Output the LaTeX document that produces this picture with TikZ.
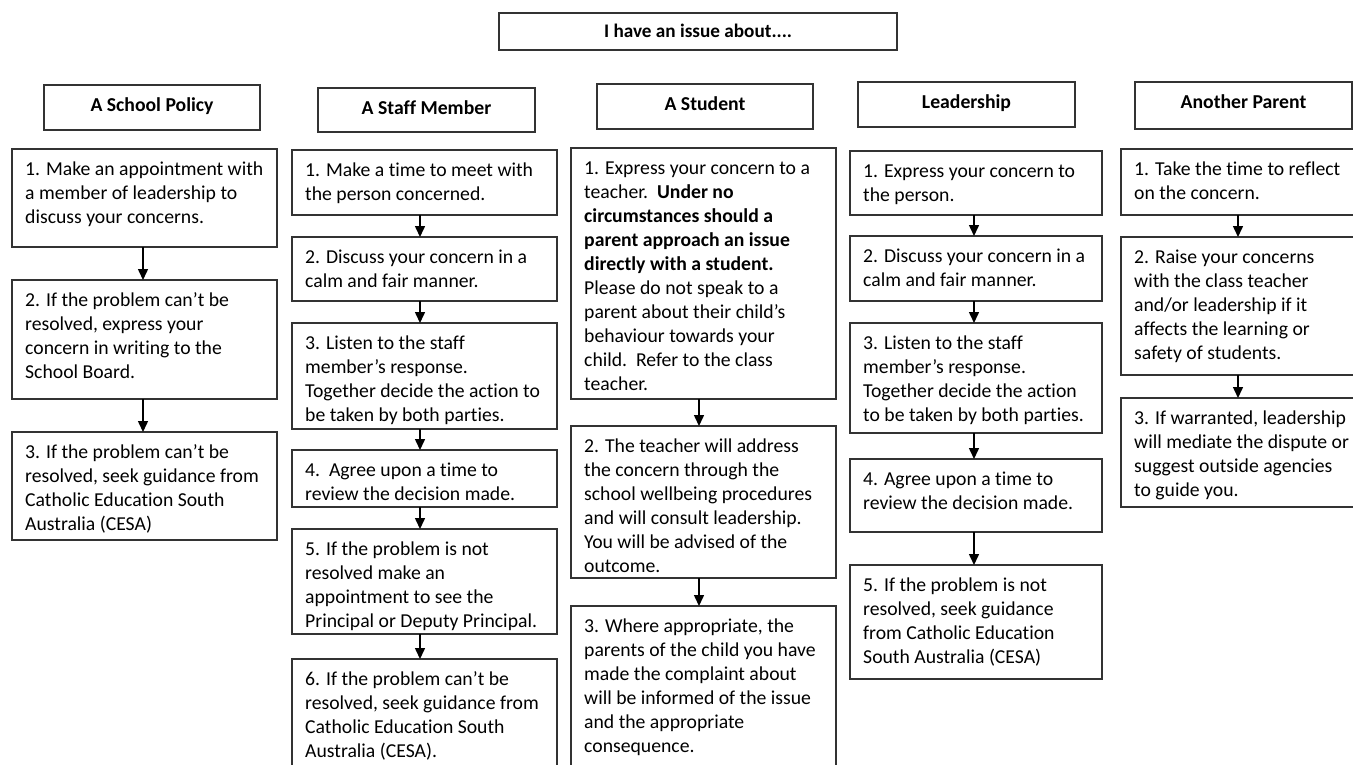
\documentclass[tikz,border=0pt]{standalone}
\usepackage{fontspec}
\setmainfont{Carlito}[Ligatures={NoCommon}]
\usetikzlibrary{arrows.meta}
\definecolor{edge}{HTML}{333333}
\tikzset{
  bx/.style={draw=edge, line width=1.3pt, rectangle, inner sep=0pt, outer sep=0pt},
  tx/.style={inner sep=0pt, align=left, font=\fontsize{19.7}{24}\selectfont},
  hd/.style={inner sep=0pt, font=\fontsize{19.7}{24}\selectfont\bfseries},
  ttl/.style={inner sep=0pt, font=\fontsize{19.2}{24}\selectfont\bfseries},
  arr/.style={draw=black, line width=1.5pt, -{Triangle[width=10pt,length=11pt]}}
}
\newcommand{\mkbox}[6]{%
  \node[bx, anchor=north west, minimum width={#4-#2}, minimum height={#5-#3}] (#1) at (#2,#3) {};
  \node[tx, anchor=north west] (#1t) at (#2+13,#3+9.2) {\strut#6};
}
\newcommand{\mkhead}[6]{%
  \node[bx, anchor=north west, minimum width={#4-#2}, minimum height={#5-#3}] (#1) at (#2,#3) {};
  \node[hd, anchor=base] (#1t) at ({(#2+#4)/2},#3+26) {#6};
}
\begin{document}
\begin{tikzpicture}[x=1pt,y=-1pt]
\clip (0,0) rectangle (1353,764);
\fill[white] (0,0) rectangle (1353,764);
% title
\node[bx, anchor=north west, minimum width=398, minimum height=37] (top) at (499,13) {};
\node[ttl, anchor=base] (topt) at (698,37.5) {I have an issue about....};
% headers
\mkhead{h1}{44}{85}{260}{130}{A School Policy}
\mkhead{h2}{318}{88}{535}{132}{A Staff Member}
\mkhead{h3}{597}{84}{813}{129}{A Student}
\mkhead{h4}{858}{82}{1075}{127}{Leadership}
\mkhead{h5}{1135}{82}{1352}{129}{Another Parent}
% column 1
\mkbox{a1}{12}{149}{277}{247}{1. Make an appointment with\\a member of leadership to\\discuss your concerns.}
\mkbox{a2}{12}{280}{277}{399}{2. If the problem can’t be\\resolved, express your\\concern in writing to the\\School Board.}
\mkbox{a3}{12}{432}{277}{540}{3. If the problem can’t be\\resolved, seek guidance from\\Catholic Education South\\Australia (CESA)}
% column 2
\mkbox{b1}{292}{150}{557}{215}{1. Make a time to meet with\\the person concerned.}
\mkbox{b2}{292}{237}{557}{301}{2. Discuss your concern in a\\calm and fair manner.}
\mkbox{b3}{292}{323}{557}{429}{3. Listen to the staff\\member’s response.\\Together decide the action to\\be taken by both parties.}
\mkbox{b4}{292}{450}{557}{507}{4.\ \ Agree upon a time to\\review the decision made.}
\mkbox{b5}{292}{529}{557}{634}{5. If the problem is not\\resolved make an\\appointment to see the\\Principal or Deputy Principal.}
\mkbox{b6}{292}{659}{557}{772}{6. If the problem can’t be\\resolved, seek guidance from\\Catholic Education South\\Australia (CESA).}
% column 3
\mkbox{c1}{571}{148}{836}{399}{1. Express your concern to a\\teacher.\ \ \textbf{Under no}\\\textbf{circumstances should a}\\\textbf{parent approach an issue}\\\textbf{directly with a student.}\\Please do not speak to a\\parent about their child’s\\behaviour towards your\\child.\ \ Refer to the class\\teacher.}
\mkbox{c2}{571}{426}{836}{578}{2. The teacher will address\\the concern through the\\school wellbeing procedures\\and will consult leadership.\\You will be advised of the\\outcome.}
\mkbox{c3}{571}{606}{836}{772}{3. Where appropriate, the\\parents of the child you have\\made the complaint about\\will be informed of the issue\\and the appropriate\\consequence.}
% column 4
\mkbox{d1}{850}{151}{1102}{215}{1. Express your concern to\\the person.}
\mkbox{d2}{850}{236}{1102}{301}{2. Discuss your concern in a\\calm and fair manner.}
\mkbox{d3}{850}{323}{1102}{433}{3. Listen to the staff\\member’s response.\\Together decide the action\\to be taken by both parties.}
\mkbox{d4}{850}{459}{1102}{532}{4. Agree upon a time to\\review the decision made.}
\mkbox{d5}{850}{565}{1102}{679}{5. If the problem is not\\resolved, seek guidance\\from Catholic Education\\South Australia (CESA)}
% column 5
\mkbox{e1}{1121}{149}{1358}{215}{1. Take the time to reflect\\on the concern.}
\mkbox{e2}{1121}{237}{1358}{375}{2. Raise your concerns\\with the class teacher\\and/or leadership if it\\affects the learning or\\safety of students.}
\mkbox{e3}{1121}{398}{1358}{507}{3. If warranted, leadership\\will mediate the dispute or\\suggest outside agencies\\to guide you.}
% arrow columns
\coordinate (ca) at (143,0);
\coordinate (cb) at (420,0);
\coordinate (cc) at (699,0);
\coordinate (cd) at (974,0);
\coordinate (ce) at (1238,0);
\draw[arr] (a1.south -| ca) -- (a2.north -| ca);
\draw[arr] (a2.south -| ca) -- (a3.north -| ca);
\draw[arr] (b1.south -| cb) -- (b2.north -| cb);
\draw[arr] (b2.south -| cb) -- (b3.north -| cb);
\draw[arr] (b3.south -| cb) -- (b4.north -| cb);
\draw[arr] (b4.south -| cb) -- (b5.north -| cb);
\draw[arr] (b5.south -| cb) -- (b6.north -| cb);
\draw[arr] (c1.south -| cc) -- (c2.north -| cc);
\draw[arr] (c2.south -| cc) -- (c3.north -| cc);
\draw[arr] (d1.south -| cd) -- (d2.north -| cd);
\draw[arr] (d2.south -| cd) -- (d3.north -| cd);
\draw[arr] (d3.south -| cd) -- (d4.north -| cd);
\draw[arr] (d4.south -| cd) -- (d5.north -| cd);
\draw[arr] (e1.south -| ce) -- (e2.north -| ce);
\draw[arr] (e2.south -| ce) -- (e3.north -| ce);
\end{tikzpicture}
\end{document}
